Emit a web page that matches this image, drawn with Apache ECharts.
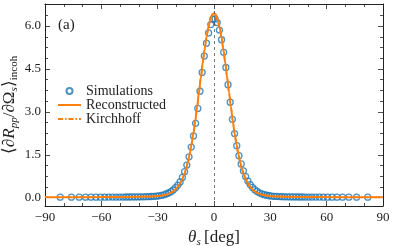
<!DOCTYPE html>
<html><head><meta charset="utf-8">
<script src="https://cdn.jsdelivr.net/npm/echarts@6/dist/echarts.min.js"></script>
<style>html,body{margin:0;padding:0;background:#fff}#c{width:395px;height:246px}</style>
</head><body><div id="c"></div>
<script>
// Simulation sample angles (deg) and values
const simAngles = [-81.89,-75.93,-71.81,-68.43,-65.51,-62.87,-60.46,-58.21,-56.10,-54.10,
  -52.19,-50.36,-48.59,-46.89,-45.24,-43.63,-42.07,-40.54,-39.05,-37.59,
  -36.16,-34.75,-33.37,-32.01,-30.66,-29.34,-28.03,-26.74,-25.47,-24.20,
  -22.95,-21.72,-20.49,-19.27,-18.06,-16.86,-15.66,-14.48,-13.30,-12.12,
  -10.95,-9.79,-8.63,-7.47,-6.32,-5.16,-4.01,-2.87,-1.72,-0.57,
  0.57,1.72,2.87,4.01,5.16,6.32,7.47,8.63,9.79,10.95,
  12.12,13.30,14.48,15.66,16.86,18.06,19.27,20.49,21.72,22.95,
  24.20,25.47,26.74,28.03,29.34,30.66,32.01,33.37,34.75,36.16,
  37.59,39.05,40.54,42.07,43.63,45.24,46.89,48.59,50.36,52.19,
  54.10,56.10,58.21,60.46,62.87,65.51,68.43,71.81,75.93,81.89];
const simValues = [0.017,0.017,0.018,0.018,0.019,0.019,0.020,0.020,0.021,0.021,
  0.022,0.022,0.023,0.024,0.025,0.026,0.027,0.028,0.030,0.032,
  0.035,0.038,0.042,0.048,0.055,0.065,0.08,0.10,0.13,0.165,
  0.21,0.27,0.35,0.44,0.55,0.71,0.91,1.14,1.43,1.77,
  2.16,2.60,3.12,3.72,4.38,4.95,5.40,5.76,6.05,6.24,
  6.25,6.12,5.86,5.52,5.08,4.55,3.95,3.34,2.74,2.24,
  1.82,1.47,1.18,0.94,0.74,0.58,0.46,0.36,0.28,0.22,
  0.17,0.135,0.105,0.085,0.068,0.057,0.049,0.043,0.038,0.035,
  0.032,0.030,0.028,0.027,0.026,0.025,0.024,0.023,0.022,0.022,
  0.021,0.021,0.020,0.020,0.019,0.019,0.018,0.018,0.017,0.017];
// Reconstructed / Kirchhoff curves
const curveAngles = [-90,-80,-70,-60,-50,-45,-40,-36,-33,-30,-28,-26,-25,-24,-23,-22,-21,-20,-19,-18,-17,-16,-15,-14,-13,-12,-11,-10,-9,-8,-7,-6,-5,-4,-3,-2,-1,0,
  1,2,3,4,5,6,7,8,9,10,11,12,13,14,15,16,17,18,19,20,21,22,23,24,25,26,28,30,33,36,40,45,50,60,70,80,90];
const reconValues = [0.015,0.016,0.018,0.021,0.025,0.028,0.032,0.038,0.046,0.058,0.072,0.095,0.115,0.14,0.17,0.21,0.26,0.32,0.40,0.50,0.63,0.79,0.98,1.22,1.51,1.85,2.24,2.68,3.17,3.68,4.20,4.71,5.18,5.60,5.95,6.22,6.40,6.45,
  6.40,6.22,5.95,5.60,5.18,4.71,4.20,3.68,3.17,2.68,2.24,1.85,1.51,1.22,0.98,0.79,0.63,0.50,0.40,0.32,0.26,0.21,0.17,0.14,0.115,0.095,0.072,0.058,0.046,0.038,0.032,0.028,0.025,0.021,0.018,0.016,0.015];
const kirchValues = [0.015,0.016,0.018,0.021,0.025,0.028,0.032,0.038,0.046,0.058,0.072,0.095,0.115,0.14,0.17,0.21,0.26,0.32,0.40,0.50,0.63,0.79,0.98,1.22,1.51,1.85,2.24,2.68,3.17,3.68,4.20,4.71,5.18,5.59,5.93,6.19,6.36,6.40,
  6.36,6.19,5.93,5.59,5.18,4.71,4.20,3.68,3.17,2.68,2.24,1.85,1.51,1.22,0.98,0.79,0.63,0.50,0.40,0.32,0.26,0.21,0.17,0.14,0.115,0.095,0.072,0.058,0.046,0.038,0.032,0.028,0.025,0.021,0.018,0.016,0.015];
const yTicks = [0, 1.5, 3, 4.5, 6];
const yMinorTicks = [0.375,0.75,1.125,1.875,2.25,2.625,3.375,3.75,4.125,4.875,5.25,5.625,6.375,6.75];
const xRange = [-90, 90];
const yRange = [-0.29, 6.77];

const FONT = 'Liberation Serif';
const INK = '#222';
const fmtX = v => v < 0 ? '\u2212' + Math.abs(v) : String(v);

function xAx(pos, withLabel) {
  return {
    type: 'value', min: xRange[0], max: xRange[1], interval: 30, position: pos,
    axisLine: { show: true, onZero: false, lineStyle: { color: INK, width: 1 } },
    axisTick: { show: true, inside: true, length: 5, lineStyle: { color: INK, width: 0.8 } },
    minorTick: { show: true, splitNumber: 3, length: 3, lineStyle: { color: INK, width: 0.8 } },
    axisLabel: { show: withLabel, formatter: fmtX, fontFamily: FONT, fontSize: 13, color: INK, margin: 5 },
    splitLine: { show: false }, minorSplitLine: { show: false },
    name: withLabel ? '{i|θ}{s|s} {n|[deg]}' : '',
    nameLocation: 'middle', nameGap: 19,
    nameTextStyle: { rich: {
      i: { fontFamily: FONT, fontStyle: 'italic', fontSize: 17, color: INK, lineHeight: 20 },
      s: { fontFamily: FONT, fontStyle: 'italic', fontSize: 11, color: INK, lineHeight: 14, verticalAlign: 'bottom' },
      n: { fontFamily: FONT, fontSize: 17, color: INK, lineHeight: 20 }
    } }
  };
}
function yAx(pos, major, withLabel) {
  const ticks = major ? yTicks : yMinorTicks;
  const o = {
    type: 'value', min: yRange[0], max: yRange[1], position: pos,
    axisLine: { show: major, onZero: false, lineStyle: { color: INK, width: 1 } },
    axisTick: { show: true, inside: true, length: major ? 5 : 3, customValues: ticks, lineStyle: { color: INK, width: 0.8 } },
    axisLabel: { show: withLabel, customValues: ticks, formatter: v => v.toFixed(1), fontFamily: FONT, fontSize: 13, color: INK, margin: 4 },
    splitLine: { show: false }
  };
  if (withLabel) {
    o.name = '{n|⟨∂}{i|R}{si|pp}{n|/∂Ω}{si|s}{n|⟩}{sn|incoh}';
    o.nameLocation = 'middle';
    o.nameGap = 25;
    o.nameMoveOverlap = false;
    o.nameRotate = 90;
    o.nameTextStyle = { rich: {
      n: { fontFamily: FONT, fontSize: 17, color: INK, lineHeight: 20 },
      i: { fontFamily: FONT, fontStyle: 'italic', fontSize: 17, color: INK, lineHeight: 20 },
      si: { fontFamily: FONT, fontStyle: 'italic', fontSize: 11, color: INK, lineHeight: 14, verticalAlign: 'bottom' },
      sn: { fontFamily: FONT, fontSize: 11, color: INK, lineHeight: 14, verticalAlign: 'bottom' }
    } };
  }
  return o;
}

const simData = simAngles.map((a, i) => [a, simValues[i]]);
const reconData = curveAngles.map((a, i) => [a, reconValues[i]]);
const kirchData = curveAngles.map((a, i) => [a, kirchValues[i]]);
const noSym = { color: 'rgba(0,0,0,0)', borderColor: 'rgba(0,0,0,0)', borderWidth: 0 };

const chart = echarts.init(document.getElementById('c'), null, { renderer: 'canvas' });
chart.setOption({
  animation: false,
  backgroundColor: '#fff',
  title: { text: '(a)', left: 53, top: 13, textStyle: { fontFamily: FONT, fontSize: 15, fontWeight: 'normal', color: INK } },
  grid: { left: 45, right: 12, top: 4, bottom: 40, outerBoundsMode: 'none', containLabel: false },
  xAxis: [xAx('bottom', true), xAx('top', false)],
  yAxis: [yAx('left', true, true), yAx('left', false, false), yAx('right', true, false), yAx('right', false, false)],
  legend: {
    orient: 'vertical', left: 52, top: 79, itemWidth: 23, itemHeight: 6, itemGap: 0,
    textStyle: { fontFamily: FONT, fontSize: 14, color: INK, lineHeight: 14 },
    data: [
      { name: 'Simulations' },
      { name: 'Reconstructed', itemStyle: noSym },
      { name: 'Kirchhoff', itemStyle: noSym }
    ]
  },
  series: [
    {
      name: 'Simulations', type: 'scatter', xAxisIndex: 0, yAxisIndex: 0,
      data: simData, symbol: 'circle', symbolSize: 6,
      itemStyle: { color: 'rgba(255,255,255,0)', borderColor: '#1f77b4', borderWidth: 1.3 },
      z: 2,
      markLine: {
        silent: true, symbol: 'none', label: { show: false },
        lineStyle: { type: [3, 3], color: '#555', width: 0.8 },
        data: [{ xAxis: 0 }]
      }
    },
    {
      name: 'Reconstructed', type: 'line', xAxisIndex: 0, yAxisIndex: 0,
      data: reconData, showSymbol: false, symbol: 'none', smooth: 0.3, smoothMonotone: 'x',
      lineStyle: { color: '#ff7f0e', width: 2 }, itemStyle: { color: '#ff7f0e' }, z: 3
    },
    {
      name: 'Kirchhoff', type: 'line', xAxisIndex: 0, yAxisIndex: 0,
      data: kirchData, showSymbol: false, symbol: 'none', smooth: 0.3, smoothMonotone: 'x',
      lineStyle: { color: '#ff7f0e', width: 1.6, type: [5, 2, 1.5, 2] }, itemStyle: { color: '#ff7f0e' }, z: 4
    }
  ]
});
</script>
</body></html>
